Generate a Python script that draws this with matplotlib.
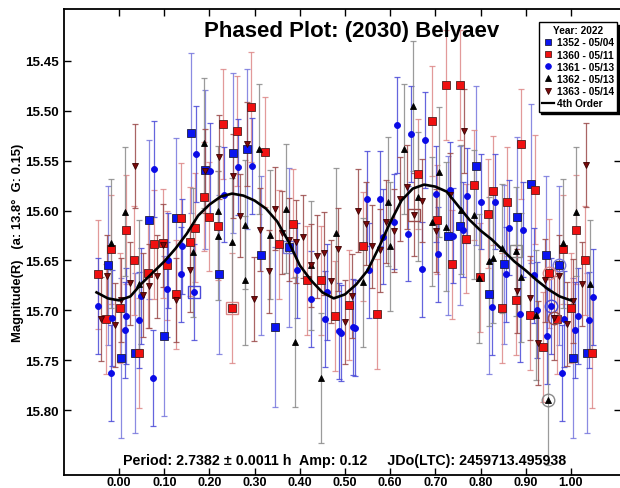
import matplotlib
matplotlib.use("Agg")
import matplotlib.pyplot as plt
from matplotlib.lines import Line2D

plt.rcParams["font.family"] = ["Liberation Sans", "DejaVu Sans"]
plt.rcParams["font.weight"] = "bold"

# --- session 1352 (05/04) ---
ph_1352 = [-0.025, 0.005, 0.036, 0.066, 0.099, 0.127, 0.159, 0.190, 0.221, 0.252,
           0.283, 0.314, 0.344, 0.376, 0.727, 0.754, 0.789, 0.819, 0.852, 0.881,
           0.912, 0.944, 0.974, 1.005, 1.035]
mag_1352 = [15.655, 15.748, 15.743, 15.609, 15.726, 15.607, 15.522, 15.559, 15.664, 15.542,
            15.538, 15.645, 15.717, 15.637, 15.625, 15.615, 15.555, 15.684, 15.654, 15.606,
            15.573, 15.645, 15.655, 15.748, 15.743]
err_1352 = 0.08

# --- session 1360 (05/11) ---
ph_1360 = [-0.047, -0.028, -0.017, 0.002, 0.015, 0.033, 0.044, 0.064, 0.077, 0.097,
           0.107, 0.126, 0.137, 0.157, 0.168, 0.188, 0.200, 0.219, 0.230, 0.249,
           0.261, 0.292, 0.324, 0.355, 0.386, 0.416, 0.447, 0.478, 0.509, 0.539,
           0.570, 0.662, 0.693, 0.704, 0.723, 0.737, 0.754, 0.767, 0.785, 0.798,
           0.816, 0.828, 0.847, 0.859, 0.878, 0.890, 0.909, 0.921, 0.939, 0.952,
           0.969, 0.983, 1.000, 1.012, 1.031, 1.046]
mag_1360 = [15.664, 15.709, 15.639, 15.698, 15.619, 15.650, 15.743, 15.663, 15.634, 15.633,
            15.655, 15.684, 15.607, 15.631, 15.617, 15.586, 15.606, 15.615, 15.513, 15.698,
            15.520, 15.496, 15.541, 15.634, 15.613, 15.670, 15.670, 15.706, 15.695, 15.636,
            15.704, 15.563, 15.510, 15.609, 15.474, 15.654, 15.474, 15.628, 15.574, 15.667,
            15.603, 15.580, 15.698, 15.591, 15.690, 15.533, 15.705, 15.579, 15.737, 15.663,
            15.709, 15.639, 15.698, 15.619, 15.650, 15.743]
err_1360 = 0.055

# --- session 1361 (05/13) ---
ph_1361 = [-0.046, -0.018, -0.015, 0.013, 0.015, 0.043, 0.049, 0.075, 0.078, 0.105,
           0.109, 0.136, 0.139, 0.165, 0.170, 0.202, 0.232, 0.263, 0.294, 0.394,
           0.424, 0.456, 0.460, 0.487, 0.492, 0.517, 0.523, 0.548, 0.553, 0.578,
           0.584, 0.609, 0.615, 0.640, 0.646, 0.671, 0.677, 0.702, 0.707, 0.733,
           0.740, 0.762, 0.769, 0.800, 0.826, 0.831, 0.857, 0.862, 0.887, 0.893,
           0.919, 0.924, 0.948, 0.955, 0.980, 0.985, 1.010, 1.016, 1.041, 1.048]
mag_1361 = [15.696, 15.763, 15.708, 15.720, 15.706, 15.710, 15.686, 15.768, 15.558, 15.679,
            15.650, 15.664, 15.636, 15.682, 15.543, 15.560, 15.584, 15.556, 15.555, 15.660,
            15.689, 15.709, 15.682, 15.721, 15.723, 15.717, 15.718, 15.588, 15.660, 15.588,
            15.626, 15.611, 15.514, 15.623, 15.523, 15.659, 15.529, 15.583, 15.644, 15.579,
            15.625, 15.619, 15.585, 15.591, 15.697, 15.591, 15.664, 15.617, 15.704, 15.619,
            15.665, 15.700, 15.726, 15.696, 15.763, 15.709, 15.720, 15.706, 15.710, 15.687]
err_1361 = 0.048

# --- session 1362 (05/13) ---
ph_1362 = [-0.018, 0.013, 0.044, 0.164, 0.187, 0.219, 0.219, 0.249, 0.279, 0.279,
           0.310, 0.333, 0.369, 0.390, 0.424, 0.447, 0.481, 0.539, 0.596, 0.600,
           0.631, 0.651, 0.662, 0.693, 0.709, 0.723, 0.756, 0.785, 0.796, 0.818,
           0.827, 0.847, 0.878, 0.889, 0.922, 0.950, 0.982, 1.012, 1.042]
mag_1362 = [15.633, 15.601, 15.674, 15.642, 15.532, 15.600, 15.625, 15.632, 15.614, 15.670,
            15.538, 15.624, 15.598, 15.732, 15.655, 15.768, 15.622, 15.672, 15.591, 15.636,
            15.538, 15.495, 15.586, 15.611, 15.561, 15.616, 15.599, 15.604, 15.668, 15.651,
            15.648, 15.638, 15.641, 15.667, 15.705, 15.790, 15.633, 15.601, 15.674]
err_1362 = 0.065

# --- session 1363 (05/14) ---
ph_1363 = [-0.040, -0.027, -0.009, 0.004, 0.023, 0.035, 0.052, 0.066, 0.083, 0.097,
           0.127, 0.158, 0.190, 0.221, 0.251, 0.268, 0.283, 0.299, 0.312, 0.331,
           0.344, 0.360, 0.375, 0.391, 0.406, 0.425, 0.437, 0.454, 0.468, 0.484,
           0.499, 0.515, 0.529, 0.546, 0.559, 0.578, 0.590, 0.609, 0.622, 0.638,
           0.653, 0.670, 0.701, 0.733, 0.763, 0.881, 0.910, 0.928, 0.942, 0.962,
           0.973, 0.991, 1.005, 1.024, 1.034]
mag_1363 = [15.709, 15.666, 15.715, 15.690, 15.673, 15.555, 15.685, 15.676, 15.666, 15.635,
            15.690, 15.660, 15.560, 15.546, 15.565, 15.605, 15.533, 15.689, 15.619, 15.661,
            15.598, 15.622, 15.629, 15.631, 15.626, 15.655, 15.646, 15.643, 15.671, 15.639,
            15.712, 15.686, 15.600, 15.613, 15.636, 15.640, 15.611, 15.620, 15.588, 15.576,
            15.604, 15.590, 15.620, 15.584, 15.520, 15.681, 15.688, 15.733, 15.670, 15.708,
            15.666, 15.714, 15.691, 15.674, 15.554]
err_1363 = 0.042

# 4th order Fourier fit
fit_ph = [-0.050, -0.025, 0.000, 0.025, 0.050, 0.075, 0.100, 0.125, 0.150, 0.175,
          0.200, 0.225, 0.250, 0.275, 0.300, 0.325, 0.350, 0.375, 0.400, 0.425,
          0.450, 0.475, 0.500, 0.525, 0.550, 0.575, 0.600, 0.625, 0.650, 0.675,
          0.700, 0.725, 0.750, 0.775, 0.800, 0.825, 0.850, 0.875, 0.900, 0.925,
          0.950, 0.975, 1.000]
fit_mag = [15.682, 15.688, 15.690, 15.686, 15.673, 15.662, 15.651, 15.638, 15.623, 15.605,
           15.594, 15.586, 15.583, 15.585, 15.590, 15.598, 15.611, 15.631, 15.655, 15.670,
           15.682, 15.688, 15.684, 15.674, 15.660, 15.637, 15.612, 15.590, 15.578, 15.574,
           15.576, 15.581, 15.595, 15.609, 15.620, 15.629, 15.640, 15.651, 15.660, 15.670,
           15.679, 15.686, 15.690]

sessions = ["1352 - 05/04", "1360 - 05/11", "1361 - 05/13", "1362 - 05/13", "1363 - 05/14"]
xticks = [0.0, 0.1, 0.2, 0.3, 0.4, 0.5, 0.6, 0.7, 0.8, 0.9, 1.0]
yticks = [15.45, 15.50, 15.55, 15.60, 15.65, 15.70, 15.75, 15.80]

# index of first (boxed) and last (circled) obs in each session
box_idx = {0: 13, 1: 19, 2: 13, 3: 32, 4: 40}
ring_idx = {0: 22, 1: 49, 2: 53, 3: 35, 4: 49}

data = [(ph_1352, mag_1352, err_1352), (ph_1360, mag_1360, err_1360),
        (ph_1361, mag_1361, err_1361), (ph_1362, mag_1362, err_1362),
        (ph_1363, mag_1363, err_1363)]
# marker, face, edge, errorbar colour, size
styles = [("s", "#0a14f0", "#202040", "#7777dd", 5.2),
          ("s", "#f01010", "#502020", "#dd8888", 5.2),
          ("o", "#0a0ae6", "#0a0ae6", "#4a4ad8", 4.3),
          ("^", "#000000", "#000000", "#8a8a8a", 5.0),
          ("v", "#7a0a0a", "#3a0000", "#9a4a4a", 5.0)]

fig = plt.figure(figsize=(6.2, 4.89), dpi=100)
ax = fig.add_axes([64 / 620, 13 / 489, 557 / 620, 466 / 489])

for (ph, mag, err), (mk, fc, ec, erc, ms) in zip(data, styles):
    ax.errorbar(ph, mag, yerr=err, fmt="none", ecolor=erc, elinewidth=0.9,
                capsize=2.2, capthick=0.9, alpha=0.85, zorder=2)

ax.plot(fit_ph, fit_mag, color="black", lw=1.9, zorder=5)

for i, ((ph, mag, err), (mk, fc, ec, erc, ms)) in enumerate(zip(data, styles)):
    ax.plot(ph, mag, ls="none", marker=mk, ms=ms, mfc=fc, mec=ec, mew=0.6, zorder=4)
    b, r = box_idx[i], ring_idx[i]
    ax.plot(ph[b], mag[b], ls="none", marker="s", ms=9, mfc="none", mec=erc, mew=1.0, zorder=4)
    ax.plot(ph[r], mag[r], ls="none", marker="o", ms=9, mfc="none", mec=erc, mew=1.0, zorder=4)

ax.set_xlim(-0.122, 1.111)
ax.set_ylim(15.865, 15.398)
ax.set_xticks(xticks)
ax.set_xticklabels([f"{t:.2f}" for t in xticks])
ax.set_yticks(yticks)
ax.set_yticklabels([f"{t:.2f}" for t in yticks])
ax.tick_params(direction="in", length=5, width=1, top=True, right=True,
               labelsize=9.6, pad=4)
ax.tick_params(axis="x", labelsize=9.0, pad=0.6)
for s in ax.spines.values():
    s.set_linewidth(1.3)

ax.set_ylabel("Magnitude(R)   (a: 13.8°  G: 0.15)", fontsize=9.4, fontweight="bold")
ax.yaxis.set_label_coords(-40 / 557, 0.5)

fig.text(352 / 620, 1 - 31 / 489, "Phased Plot: (2030) Belyaev", fontsize=16,
         fontweight="bold", ha="center", va="center")
fig.text(345 / 620, 1 - 461 / 489,
         "Period: 2.7382 \u00b1 0.0011 h  Amp: 0.12     JDo(LTC): 2459713.495938",
         fontsize=10.3, fontweight="bold", ha="center", va="center")

handles = [Line2D([], [], ls="none", marker=m, ms=sz * 0.95, mfc=fc, mec=ec, mew=0.6)
           for (m, fc, ec, erc, sz) in styles]
handles.append(Line2D([], [], color="black", lw=1.6))
leg = ax.legend(handles, sessions + ["4th Order"], title="Year: 2022",
                loc="upper right", bbox_to_anchor=(0.993, 0.972), borderaxespad=0,
                fontsize=7.3, title_fontsize=7.3, handlelength=1.2, handletextpad=0.3,
                labelspacing=0.22, borderpad=0.3, fancybox=False, framealpha=1,
                edgecolor="black", shadow={"color": "black", "alpha": 1, "ox": 2, "oy": -2})
leg.get_title().set_fontweight("bold")
leg.get_frame().set_linewidth(1.0)

fig.savefig("out.png", dpi=100)
